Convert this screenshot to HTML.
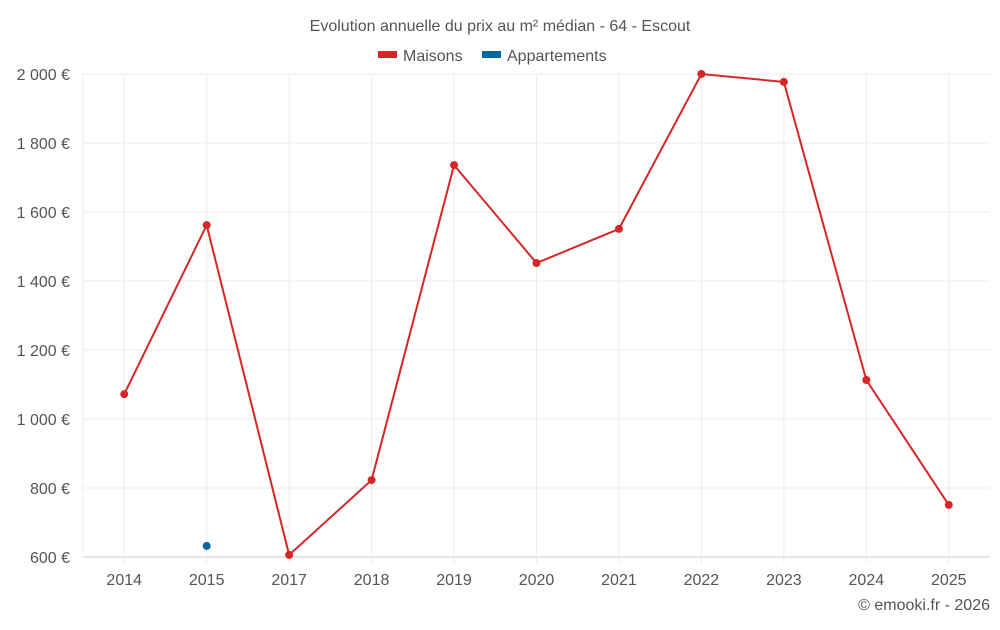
<!DOCTYPE html>
<html><head><meta charset="utf-8"><style>
body{margin:0;background:#fff;font-family:"Liberation Sans",sans-serif;}
svg text{font-family:"Liberation Sans",sans-serif;}
</style></head><body>
<svg id="c" width="1000" height="625">
<text x="500" y="31" text-anchor="middle" font-size="16" fill="#555">Evolution annuelle du prix au m² médian - 64 - Escout</text>
<g><rect x="378" y="51" width="19" height="7" fill="#d62728"/><text x="403" y="61" font-size="16" fill="#555">Maisons</text></g>
<g><rect x="482" y="51" width="19" height="7" fill="#04699e"/><text x="507" y="61" font-size="16" fill="#555">Appartements</text></g>
<text x="990" y="610" text-anchor="end" font-size="16" fill="#555">© emooki.fr - 2026</text>
<g id="grid"></g><g id="marks"></g>
</svg>
<script>
const categories=["2014","2015","2017","2018","2019","2020","2021","2022","2023","2024","2025"];
const maisons=[1072,1562,606,823,1736,1452,1551,2000,1977,1113,751];
const appartements=[null,632,null,null,null,null,null,null,null,null,null];
const yTicks=[600,800,1000,1200,1400,1600,1800,2000];
const yTickLabels=["600 €","800 €","1 000 €","1 200 €","1 400 €","1 600 €","1 800 €","2 000 €"];
const L=83,R=990,T=74,B=557,ymin=600,ymax=2000;
const bw=(R-L)/categories.length;
const x=i=>L+bw*(i+0.5);
const y=v=>B-(v-ymin)/(ymax-ymin)*(B-T);
const NS="http://www.w3.org/2000/svg";
const g=document.getElementById('grid'),m=document.getElementById('marks');
function mk(p,t,a){const e=document.createElementNS(NS,t);for(const k in a)e.setAttribute(k,a[k]);p.appendChild(e);return e;}
yTicks.forEach((v,i)=>{
 const l=mk(g,'line',{x1:L,x2:R,y1:y(v),y2:y(v),stroke:i==0?'#ccc':'#ebebeb'});
 
 
 const t=mk(g,'text',{x:70,y:y(v)+6,'text-anchor':'end','font-size':16,fill:'#555'});t.textContent=yTickLabels[i];
 
 
});
mk(g,'line',{x1:L,x2:L,y1:T,y2:B,stroke:'#ebebeb'});
categories.forEach((c,i)=>{
 const l=mk(g,'line',{x1:x(i),x2:x(i),y1:T,y2:B+6,stroke:'#ebebeb'});
 
 
 const t=mk(g,'text',{x:x(i),y:585,'text-anchor':'middle','font-size':16,fill:'#555'});t.textContent=c;
 
 
});
const pl=mk(m,'polyline',{points:maisons.map((v,i)=>x(i)+','+y(v)).join(' '),fill:'none',stroke:'#d62728','stroke-width':2});


maisons.forEach((v,i)=>{const c=mk(m,'circle',{cx:x(i),cy:y(v),r:4,fill:'#d62728'});
 
 });
appartements.forEach((v,i)=>{if(v==null)return;const c=mk(m,'circle',{cx:x(i),cy:y(v),r:4,fill:'#04699e'});
 
 });
</script>
</body></html>
